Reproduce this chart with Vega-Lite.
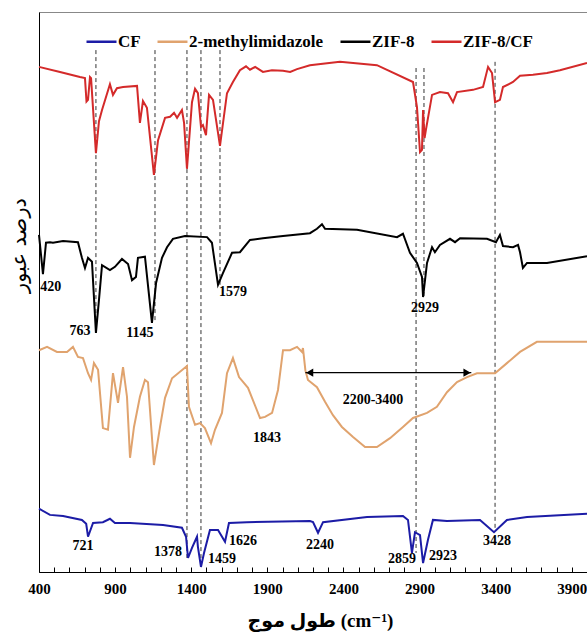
{
  "$schema": "https://vega.github.io/schema/vega-lite/v6.json",
  "width": 548,
  "height": 560,
  "autosize": {"type": "none"},
  "padding": {"left": 39, "top": 12, "right": 0, "bottom": 61},
  "background": "white",
  "config": {
    "view": {"stroke": "#888888", "strokeWidth": 1},
    "font": "Liberation Serif",
    "axis": {"labelOverlap": false, "grid": false, "domainColor": "#000000", "tickColor": "#000000", "labelColor": "#000000", "titleColor": "#000000"},
    "axisX": {
      "labelOverlap": false,
      "labelFlush": false,
      "labelBound": false,
      "labelFont": "Liberation Serif",
      "labelFontWeight": "bold",
      "labelFontSize": 15,
      "labelPadding": 9
    },
    "axisY": {"labels": false, "ticks": false}
  },
  "resolve": {"axis": {"x": "independent"}},
  "datasets": {
    "spectra": [
      {"series": "ZIF-8/CF", "wn": 400, "t": 90.2}, {"series": "ZIF-8/CF", "wn": 538, "t": 89.3}, {"series": "ZIF-8/CF", "wn": 669, "t": 88.4}, {"series": "ZIF-8/CF", "wn": 702, "t": 88.2}, {"series": "ZIF-8/CF", "wn": 712, "t": 84.0}, {"series": "ZIF-8/CF", "wn": 722, "t": 84.3}, {"series": "ZIF-8/CF", "wn": 735, "t": 88.4}, {"series": "ZIF-8/CF", "wn": 742, "t": 88.2}, {"series": "ZIF-8/CF", "wn": 774, "t": 74.8}, {"series": "ZIF-8/CF", "wn": 794, "t": 80.5}, {"series": "ZIF-8/CF", "wn": 814, "t": 82.5}, {"series": "ZIF-8/CF", "wn": 866, "t": 87.1}, {"series": "ZIF-8/CF", "wn": 886, "t": 85.2}, {"series": "ZIF-8/CF", "wn": 912, "t": 86.4}, {"series": "ZIF-8/CF", "wn": 952, "t": 86.6}, {"series": "ZIF-8/CF", "wn": 1044, "t": 86.8}, {"series": "ZIF-8/CF", "wn": 1063, "t": 80.2}, {"series": "ZIF-8/CF", "wn": 1083, "t": 84.1}, {"series": "ZIF-8/CF", "wn": 1109, "t": 82.9}, {"series": "ZIF-8/CF", "wn": 1155, "t": 70.9}, {"series": "ZIF-8/CF", "wn": 1182, "t": 77.1}, {"series": "ZIF-8/CF", "wn": 1228, "t": 81.1}, {"series": "ZIF-8/CF", "wn": 1261, "t": 81.3}, {"series": "ZIF-8/CF", "wn": 1287, "t": 82.0}, {"series": "ZIF-8/CF", "wn": 1307, "t": 81.1}, {"series": "ZIF-8/CF", "wn": 1339, "t": 82.5}, {"series": "ZIF-8/CF", "wn": 1353, "t": 80.2}, {"series": "ZIF-8/CF", "wn": 1372, "t": 72.0}, {"series": "ZIF-8/CF", "wn": 1405, "t": 83.9}, {"series": "ZIF-8/CF", "wn": 1425, "t": 86.3}, {"series": "ZIF-8/CF", "wn": 1444, "t": 85.5}, {"series": "ZIF-8/CF", "wn": 1464, "t": 79.5}, {"series": "ZIF-8/CF", "wn": 1477, "t": 79.8}, {"series": "ZIF-8/CF", "wn": 1497, "t": 78.0}, {"series": "ZIF-8/CF", "wn": 1517, "t": 85.2}, {"series": "ZIF-8/CF", "wn": 1543, "t": 84.3}, {"series": "ZIF-8/CF", "wn": 1589, "t": 76.1}, {"series": "ZIF-8/CF", "wn": 1635, "t": 85.5}, {"series": "ZIF-8/CF", "wn": 1674, "t": 87.5}, {"series": "ZIF-8/CF", "wn": 1720, "t": 89.6}, {"series": "ZIF-8/CF", "wn": 1760, "t": 90.3}, {"series": "ZIF-8/CF", "wn": 1786, "t": 89.7}, {"series": "ZIF-8/CF", "wn": 1820, "t": 90.2}, {"series": "ZIF-8/CF", "wn": 1871, "t": 89.3}, {"series": "ZIF-8/CF", "wn": 1930, "t": 89.6}, {"series": "ZIF-8/CF", "wn": 2003, "t": 89.5}, {"series": "ZIF-8/CF", "wn": 2050, "t": 89.3}, {"series": "ZIF-8/CF", "wn": 2095, "t": 89.8}, {"series": "ZIF-8/CF", "wn": 2180, "t": 90.5}, {"series": "ZIF-8/CF", "wn": 2377, "t": 91.1}, {"series": "ZIF-8/CF", "wn": 2620, "t": 90.5}, {"series": "ZIF-8/CF", "wn": 2857, "t": 87.5}, {"series": "ZIF-8/CF", "wn": 2883, "t": 83.0}, {"series": "ZIF-8/CF", "wn": 2903, "t": 75.0}, {"series": "ZIF-8/CF", "wn": 2916, "t": 75.4}, {"series": "ZIF-8/CF", "wn": 2923, "t": 82.5}, {"series": "ZIF-8/CF", "wn": 2933, "t": 77.5}, {"series": "ZIF-8/CF", "wn": 2942, "t": 79.0}, {"series": "ZIF-8/CF", "wn": 2982, "t": 85.2}, {"series": "ZIF-8/CF", "wn": 3034, "t": 85.7}, {"series": "ZIF-8/CF", "wn": 3087, "t": 85.5}, {"series": "ZIF-8/CF", "wn": 3120, "t": 83.9}, {"series": "ZIF-8/CF", "wn": 3146, "t": 85.7}, {"series": "ZIF-8/CF", "wn": 3251, "t": 86.1}, {"series": "ZIF-8/CF", "wn": 3317, "t": 86.6}, {"series": "ZIF-8/CF", "wn": 3350, "t": 90.2}, {"series": "ZIF-8/CF", "wn": 3376, "t": 89.1}, {"series": "ZIF-8/CF", "wn": 3396, "t": 83.9}, {"series": "ZIF-8/CF", "wn": 3428, "t": 84.3}, {"series": "ZIF-8/CF", "wn": 3448, "t": 86.6}, {"series": "ZIF-8/CF", "wn": 3514, "t": 87.5}, {"series": "ZIF-8/CF", "wn": 3560, "t": 88.6}, {"series": "ZIF-8/CF", "wn": 3645, "t": 88.8}, {"series": "ZIF-8/CF", "wn": 3737, "t": 89.1}, {"series": "ZIF-8/CF", "wn": 3822, "t": 89.6}, {"series": "ZIF-8/CF", "wn": 4000, "t": 90.9},

      {"series": "ZIF-8", "wn": 400, "t": 60.2}, {"series": "ZIF-8", "wn": 426, "t": 53.2}, {"series": "ZIF-8", "wn": 446, "t": 58.8}, {"series": "ZIF-8", "wn": 472, "t": 58.9}, {"series": "ZIF-8", "wn": 492, "t": 58.8}, {"series": "ZIF-8", "wn": 558, "t": 59.1}, {"series": "ZIF-8", "wn": 656, "t": 58.9}, {"series": "ZIF-8", "wn": 682, "t": 56.1}, {"series": "ZIF-8", "wn": 702, "t": 54.3}, {"series": "ZIF-8", "wn": 722, "t": 56.1}, {"series": "ZIF-8", "wn": 748, "t": 55.4}, {"series": "ZIF-8", "wn": 774, "t": 42.7}, {"series": "ZIF-8", "wn": 794, "t": 48.6}, {"series": "ZIF-8", "wn": 814, "t": 54.8}, {"series": "ZIF-8", "wn": 866, "t": 53.9}, {"series": "ZIF-8", "wn": 899, "t": 54.5}, {"series": "ZIF-8", "wn": 945, "t": 55.9}, {"series": "ZIF-8", "wn": 985, "t": 55.0}, {"series": "ZIF-8", "wn": 1011, "t": 52.1}, {"series": "ZIF-8", "wn": 1037, "t": 52.7}, {"series": "ZIF-8", "wn": 1050, "t": 56.1}, {"series": "ZIF-8", "wn": 1096, "t": 56.3}, {"series": "ZIF-8", "wn": 1142, "t": 44.5}, {"series": "ZIF-8", "wn": 1169, "t": 51.6}, {"series": "ZIF-8", "wn": 1208, "t": 56.1}, {"series": "ZIF-8", "wn": 1241, "t": 58.0}, {"series": "ZIF-8", "wn": 1280, "t": 59.5}, {"series": "ZIF-8", "wn": 1359, "t": 60.0}, {"series": "ZIF-8", "wn": 1504, "t": 59.8}, {"series": "ZIF-8", "wn": 1536, "t": 58.8}, {"series": "ZIF-8", "wn": 1576, "t": 51.3}, {"series": "ZIF-8", "wn": 1609, "t": 53.4}, {"series": "ZIF-8", "wn": 1668, "t": 57.0}, {"series": "ZIF-8", "wn": 1720, "t": 57.1}, {"series": "ZIF-8", "wn": 1786, "t": 59.3}, {"series": "ZIF-8", "wn": 1871, "t": 59.6}, {"series": "ZIF-8", "wn": 2003, "t": 60.0}, {"series": "ZIF-8", "wn": 2180, "t": 60.5}, {"series": "ZIF-8", "wn": 2226, "t": 61.3}, {"series": "ZIF-8", "wn": 2259, "t": 62.1}, {"series": "ZIF-8", "wn": 2279, "t": 61.3}, {"series": "ZIF-8", "wn": 2489, "t": 61.1}, {"series": "ZIF-8", "wn": 2752, "t": 59.8}, {"series": "ZIF-8", "wn": 2791, "t": 60.4}, {"series": "ZIF-8", "wn": 2837, "t": 57.0}, {"series": "ZIF-8", "wn": 2883, "t": 55.2}, {"series": "ZIF-8", "wn": 2916, "t": 52.7}, {"series": "ZIF-8", "wn": 2923, "t": 49.1}, {"series": "ZIF-8", "wn": 2949, "t": 55.2}, {"series": "ZIF-8", "wn": 2982, "t": 58.0}, {"series": "ZIF-8", "wn": 3001, "t": 57.1}, {"series": "ZIF-8", "wn": 3034, "t": 58.4}, {"series": "ZIF-8", "wn": 3100, "t": 59.5}, {"series": "ZIF-8", "wn": 3133, "t": 58.9}, {"series": "ZIF-8", "wn": 3166, "t": 59.6}, {"series": "ZIF-8", "wn": 3343, "t": 59.5}, {"series": "ZIF-8", "wn": 3402, "t": 58.9}, {"series": "ZIF-8", "wn": 3428, "t": 60.2}, {"series": "ZIF-8", "wn": 3448, "t": 58.2}, {"series": "ZIF-8", "wn": 3514, "t": 58.0}, {"series": "ZIF-8", "wn": 3547, "t": 58.4}, {"series": "ZIF-8", "wn": 3560, "t": 57.1}, {"series": "ZIF-8", "wn": 3579, "t": 54.3}, {"series": "ZIF-8", "wn": 3606, "t": 55.2}, {"series": "ZIF-8", "wn": 3737, "t": 55.2}, {"series": "ZIF-8", "wn": 4000, "t": 56.4},

      {"series": "2-methylimidazole", "wn": 400, "t": 39.6}, {"series": "2-methylimidazole", "wn": 453, "t": 40.2}, {"series": "2-methylimidazole", "wn": 518, "t": 39.3}, {"series": "2-methylimidazole", "wn": 584, "t": 39.3}, {"series": "2-methylimidazole", "wn": 623, "t": 40.2}, {"series": "2-methylimidazole", "wn": 656, "t": 38.4}, {"series": "2-methylimidazole", "wn": 689, "t": 38.2}, {"series": "2-methylimidazole", "wn": 722, "t": 35.5}, {"series": "2-methylimidazole", "wn": 742, "t": 34.3}, {"series": "2-methylimidazole", "wn": 761, "t": 37.3}, {"series": "2-methylimidazole", "wn": 788, "t": 36.1}, {"series": "2-methylimidazole", "wn": 820, "t": 25.7}, {"series": "2-methylimidazole", "wn": 853, "t": 25.4}, {"series": "2-methylimidazole", "wn": 886, "t": 35.5}, {"series": "2-methylimidazole", "wn": 919, "t": 30.2}, {"series": "2-methylimidazole", "wn": 952, "t": 36.6}, {"series": "2-methylimidazole", "wn": 978, "t": 31.3}, {"series": "2-methylimidazole", "wn": 998, "t": 20.4}, {"series": "2-methylimidazole", "wn": 1024, "t": 25.9}, {"series": "2-methylimidazole", "wn": 1063, "t": 31.3}, {"series": "2-methylimidazole", "wn": 1096, "t": 34.3}, {"series": "2-methylimidazole", "wn": 1116, "t": 33.9}, {"series": "2-methylimidazole", "wn": 1155, "t": 19.1}, {"series": "2-methylimidazole", "wn": 1195, "t": 25.9}, {"series": "2-methylimidazole", "wn": 1228, "t": 31.1}, {"series": "2-methylimidazole", "wn": 1274, "t": 34.6}, {"series": "2-methylimidazole", "wn": 1372, "t": 36.8}, {"series": "2-methylimidazole", "wn": 1385, "t": 29.5}, {"series": "2-methylimidazole", "wn": 1425, "t": 26.3}, {"series": "2-methylimidazole", "wn": 1458, "t": 26.6}, {"series": "2-methylimidazole", "wn": 1490, "t": 25.7}, {"series": "2-methylimidazole", "wn": 1530, "t": 23.0}, {"series": "2-methylimidazole", "wn": 1556, "t": 25.4}, {"series": "2-methylimidazole", "wn": 1602, "t": 28.4}, {"series": "2-methylimidazole", "wn": 1635, "t": 35.5}, {"series": "2-methylimidazole", "wn": 1674, "t": 38.2}, {"series": "2-methylimidazole", "wn": 1714, "t": 34.8}, {"series": "2-methylimidazole", "wn": 1773, "t": 32.9}, {"series": "2-methylimidazole", "wn": 1852, "t": 27.5}, {"series": "2-methylimidazole", "wn": 1885, "t": 27.7}, {"series": "2-methylimidazole", "wn": 1931, "t": 28.4}, {"series": "2-methylimidazole", "wn": 1970, "t": 32.5}, {"series": "2-methylimidazole", "wn": 2003, "t": 39.6}, {"series": "2-methylimidazole", "wn": 2049, "t": 39.6}, {"series": "2-methylimidazole", "wn": 2095, "t": 40.2}, {"series": "2-methylimidazole", "wn": 2128, "t": 39.3}, {"series": "2-methylimidazole", "wn": 2134, "t": 40.0}, {"series": "2-methylimidazole", "wn": 2150, "t": 36.0}, {"series": "2-methylimidazole", "wn": 2167, "t": 34.3}, {"series": "2-methylimidazole", "wn": 2226, "t": 33.0}, {"series": "2-methylimidazole", "wn": 2279, "t": 30.4}, {"series": "2-methylimidazole", "wn": 2331, "t": 28.0}, {"series": "2-methylimidazole", "wn": 2390, "t": 25.9}, {"series": "2-methylimidazole", "wn": 2463, "t": 24.1}, {"series": "2-methylimidazole", "wn": 2542, "t": 22.3}, {"series": "2-methylimidazole", "wn": 2620, "t": 22.3}, {"series": "2-methylimidazole", "wn": 2706, "t": 23.9}, {"series": "2-methylimidazole", "wn": 2791, "t": 25.9}, {"series": "2-methylimidazole", "wn": 2857, "t": 27.5}, {"series": "2-methylimidazole", "wn": 2949, "t": 28.4}, {"series": "2-methylimidazole", "wn": 3014, "t": 29.5}, {"series": "2-methylimidazole", "wn": 3080, "t": 32.1}, {"series": "2-methylimidazole", "wn": 3146, "t": 33.9}, {"series": "2-methylimidazole", "wn": 3212, "t": 34.8}, {"series": "2-methylimidazole", "wn": 3277, "t": 35.5}, {"series": "2-methylimidazole", "wn": 3396, "t": 35.5}, {"series": "2-methylimidazole", "wn": 3474, "t": 37.3}, {"series": "2-methylimidazole", "wn": 3560, "t": 39.3}, {"series": "2-methylimidazole", "wn": 3671, "t": 41.1}, {"series": "2-methylimidazole", "wn": 4000, "t": 41.1},

      {"series": "CF", "wn": 400, "t": 11.3}, {"series": "CF", "wn": 472, "t": 10.2}, {"series": "CF", "wn": 558, "t": 10.0}, {"series": "CF", "wn": 682, "t": 9.3}, {"series": "CF", "wn": 710, "t": 8.6}, {"series": "CF", "wn": 722, "t": 6.3}, {"series": "CF", "wn": 755, "t": 8.75}, {"series": "CF", "wn": 820, "t": 8.9}, {"series": "CF", "wn": 866, "t": 9.5}, {"series": "CF", "wn": 899, "t": 8.75}, {"series": "CF", "wn": 998, "t": 8.75}, {"series": "CF", "wn": 1215, "t": 8.4}, {"series": "CF", "wn": 1339, "t": 7.9}, {"series": "CF", "wn": 1366, "t": 6.3}, {"series": "CF", "wn": 1379, "t": 2.5}, {"series": "CF", "wn": 1405, "t": 4.3}, {"series": "CF", "wn": 1438, "t": 6.3}, {"series": "CF", "wn": 1444, "t": 4.5}, {"series": "CF", "wn": 1464, "t": 0.9}, {"series": "CF", "wn": 1484, "t": 3.4}, {"series": "CF", "wn": 1523, "t": 7.5}, {"series": "CF", "wn": 1576, "t": 7.5}, {"series": "CF", "wn": 1622, "t": 5.4}, {"series": "CF", "wn": 1648, "t": 8.75}, {"series": "CF", "wn": 1766, "t": 8.9}, {"series": "CF", "wn": 2180, "t": 9.1}, {"series": "CF", "wn": 2200, "t": 8.9}, {"series": "CF", "wn": 2233, "t": 7.0}, {"series": "CF", "wn": 2266, "t": 8.9}, {"series": "CF", "wn": 2555, "t": 9.8}, {"series": "CF", "wn": 2791, "t": 10.0}, {"series": "CF", "wn": 2824, "t": 9.3}, {"series": "CF", "wn": 2850, "t": 3.4}, {"series": "CF", "wn": 2870, "t": 7.1}, {"series": "CF", "wn": 2903, "t": 6.6}, {"series": "CF", "wn": 2923, "t": 1.6}, {"series": "CF", "wn": 2955, "t": 5.7}, {"series": "CF", "wn": 2988, "t": 9.3}, {"series": "CF", "wn": 3080, "t": 9.1}, {"series": "CF", "wn": 3297, "t": 9.3}, {"series": "CF", "wn": 3389, "t": 7.1}, {"series": "CF", "wn": 3474, "t": 9.3}, {"series": "CF", "wn": 3606, "t": 9.8}, {"series": "CF", "wn": 4000, "t": 10.4}
    ],
    "guides": [
      {"wn": 774, "y1": 93.2, "y2": 42.7},
      {"wn": 1162, "y1": 93.2, "y2": 44.5},
      {"wn": 1372, "y1": 93.2, "y2": 2.5},
      {"wn": 1464, "y1": 93.2, "y2": 0.9},
      {"wn": 1589, "y1": 93.2, "y2": 51.3},
      {"wn": 2877, "y1": 90.0, "y2": 3.4},
      {"wn": 2929, "y1": 90.0, "y2": 49.1},
      {"wn": 3396, "y1": 91.1, "y2": 7.5}
    ],
    "peaks": [
      {"label": "420", "wn": 478, "t": 50.9},
      {"label": "763", "wn": 669, "t": 43.0},
      {"label": "1145", "wn": 1063, "t": 42.7},
      {"label": "1579", "wn": 1674, "t": 50.0},
      {"label": "2929", "wn": 2936, "t": 47.1},
      {"label": "1843", "wn": 1898, "t": 23.9},
      {"label": "2200-3400", "wn": 2594, "t": 30.7},
      {"label": "721", "wn": 689, "t": 4.6},
      {"label": "1378", "wn": 1247, "t": 3.6},
      {"label": "1459", "wn": 1602, "t": 2.3},
      {"label": "1626", "wn": 1740, "t": 5.5},
      {"label": "2240", "wn": 2246, "t": 4.8},
      {"label": "2859", "wn": 2784, "t": 2.3},
      {"label": "2923", "wn": 3054, "t": 2.9},
      {"label": "3428", "wn": 3409, "t": 5.5}
    ],
    "arrow": [
      {"wn": 2150, "wn2": 3240, "t": 35.6}
    ],
    "heads": [
      {"side": "left", "wn": 2178, "t": 35.6},
      {"side": "right", "wn": 3212, "t": 35.6}
    ]
  },
  "layer": [
    {
      "data": {"name": "guides"},
      "mark": {"type": "rule", "color": "#333333", "strokeWidth": 1, "strokeDash": [4, 3]},
      "encoding": {
        "x": {
          "field": "wn", "type": "quantitative",
          "scale": {"domain": [400, 4000], "nice": false},
          "axis": {
            "orient": "bottom",
            "values": [400,500,600,700,800,900,1000,1100,1200,1300,1400,1500,1600,1700,1800,1900,2000,2100,2200,2300,2400,2500,2600,2700,2800,2900,3000,3100,3200,3300,3400,3500,3600,3700,3800,3900,4000],
            "labels": false,
            "domain": false,
            "ticks": true,
            "tickSize": 5,
            "offset": -5,
            "title": null
          }
        },
        "y": {
          "field": "y1", "type": "quantitative",
          "scale": {"domain": [0, 100], "nice": false},
          "axis": {
            "title": "درصد عبور",
            "titleFont": "DejaVu Sans",
            "titleFontSize": 21,
            "titleFontWeight": "normal",
            "titleAngle": -90,
            "titleX": -20,
            "titleY": 233,
            "titleBaseline": "middle",
            "titleAlign": "center"
          }
        },
        "y2": {"field": "y2"}
      }
    },
    {
      "data": {"name": "spectra"},
      "mark": {"type": "line", "strokeWidth": 2},
      "encoding": {
        "x": {
          "field": "wn", "type": "quantitative",
          "axis": {
            "orient": "bottom",
            "values": [400, 900, 1400, 1900, 2400, 2900, 3400, 3900],
            "format": "d",
            "ticks": false,
            "domain": true,
            "title": "طول موج (cm⁻¹)",
            "titleFont": "Liberation Serif, DejaVu Sans",
            "titleFontSize": 19,
            "titleFontWeight": "bold",
            "titleX": 281,
            "titleY": 48,
            "titleBaseline": "middle"
          }
        },
        "y": {"field": "t", "type": "quantitative"},
        "color": {
          "field": "series", "type": "nominal",
          "scale": {
            "domain": ["CF", "2-methylimidazole", "ZIF-8", "ZIF-8/CF"],
            "range": ["#1c1ca6", "#e0a36e", "#000000", "#d42a2a"]
          },
          "legend": {
            "title": null,
            "orient": "none",
            "direction": "horizontal",
            "legendX": 46,
            "legendY": 13,
            "padding": 0,
            "symbolType": "stroke",
            "symbolSize": 900,
            "symbolStrokeWidth": 2.5,
            "labelFont": "Liberation Serif",
            "labelFontWeight": "bold",
            "labelFontSize": 17,
            "labelColor": "#000000",
            "labelOffset": 0,
            "columnPadding": 11
          }
        }
      }
    },
    {
      "data": {"name": "peaks"},
      "mark": {"type": "text", "font": "Liberation Serif", "fontWeight": "bold", "fontSize": 14, "color": "#000000", "align": "center", "baseline": "middle"},
      "encoding": {
        "x": {"field": "wn", "type": "quantitative", "axis": null},
        "y": {"field": "t", "type": "quantitative"},
        "text": {"field": "label"}
      }
    },
    {
      "data": {"name": "arrow"},
      "mark": {"type": "rule", "color": "#000000", "strokeWidth": 1.2},
      "encoding": {
        "x": {"field": "wn", "type": "quantitative", "axis": null},
        "x2": {"field": "wn2"},
        "y": {"field": "t", "type": "quantitative"}
      }
    },
    {
      "data": {"name": "heads"},
      "mark": {"type": "point", "filled": true, "color": "#000000", "size": 70, "opacity": 1},
      "encoding": {
        "x": {"field": "wn", "type": "quantitative", "axis": null},
        "y": {"field": "t", "type": "quantitative"},
        "shape": {"field": "side", "type": "nominal", "scale": {"domain": ["left", "right"], "range": ["triangle-left", "triangle-right"]}, "legend": null}
      }
    }
  ]
}
